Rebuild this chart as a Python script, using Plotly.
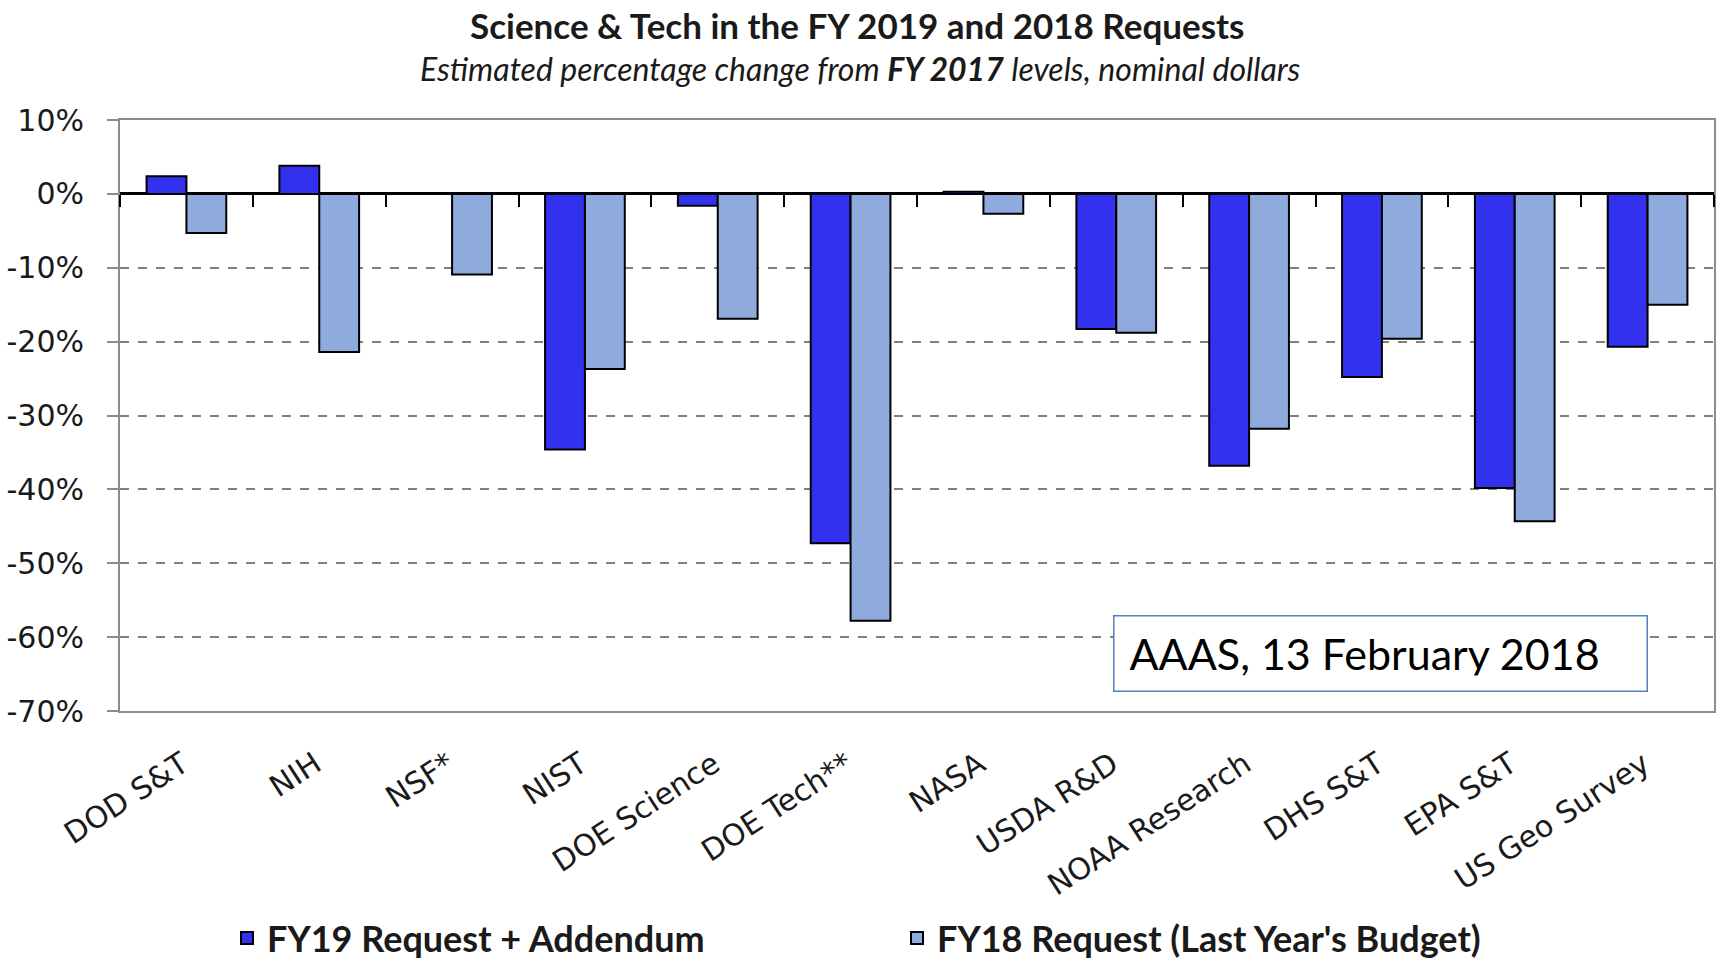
import plotly.graph_objects as go

categories = ["DOD S&T", "NIH", "NSF*", "NIST", "DOE Science", "DOE Tech**",
              "NASA", "USDA R&D", "NOAA Research", "DHS S&T", "EPA S&T", "US Geo Survey"]
fy19 = [2.4, 3.8, 0.0, -34.6, -1.6, -47.3, 0.3, -18.3, -36.8, -24.8, -39.8, -20.7]
fy18 = [-5.3, -21.4, -10.9, -23.7, -16.9, -57.8, -2.7, -18.8, -31.8, -19.6, -44.3, -15.0]
series_names = ["FY19 Request + Addendum", "FY18 Request (Last Year's Budget)"]
y_tickvals = [10, 0, -10, -20, -30, -40, -50, -60, -70]
y_ticktext = ["10%", "0%", "-10%", "-20%", "-30%", "-40%", "-50%", "-60%", "-70%"]
title_text = "Science & Tech in the FY 2019 and 2018 Requests"
subtitle_text = "Estimated percentage change from <b>FY 2017</b> levels, nominal dollars"
note_text = "AAAS, 13 February 2018"

Y_MIN, Y_MAX = -70, 10
FIG_W, FIG_H = 1720, 963
PLOT_TOP, PLOT_BOTTOM, PLOT_LEFT, PLOT_RIGHT = 120, 711, 120, 1714


def py(px):
    return (PLOT_BOTTOM - px) / (PLOT_BOTTOM - PLOT_TOP)


def pxx(px):
    return (px - PLOT_LEFT) / (PLOT_RIGHT - PLOT_LEFT)


fig = go.Figure()
fig.add_trace(go.Bar(x=categories, y=fy19, name=series_names[0],
                     marker=dict(color="#3232EE", line=dict(color="#000000", width=2))))
fig.add_trace(go.Bar(x=categories, y=fy18, name=series_names[1],
                     marker=dict(color="#8FAADC", line=dict(color="#000000", width=2))))

boundaries = [i - 0.5 for i in range(len(categories) + 1)]
zero_pos = (0 - Y_MIN) / (Y_MAX - Y_MIN)

# invisible helper trace so the boundary-tick axis is drawn
fig.add_trace(go.Scatter(x=[boundaries[0], boundaries[-1]], y=[0, 0], xaxis="x2",
                         mode="none", showlegend=False, hoverinfo="skip"))

fig.update_layout(
    width=FIG_W, height=FIG_H,
    margin=dict(l=PLOT_LEFT, r=FIG_W - PLOT_RIGHT, t=PLOT_TOP, b=FIG_H - PLOT_BOTTOM,
                autoexpand=False),
    paper_bgcolor="white", plot_bgcolor="white",
    barmode="group", bargap=0.4, bargroupgap=0.0,
    font=dict(family="DejaVu Sans", color="#222222"),
    showlegend=True,
    legend=dict(orientation="h", x=pxx(227), xanchor="left", y=py(938), yanchor="middle",
                font=dict(family="Lato", size=36, color="#1a1a1a", weight="bold"),
                entrywidth=625, itemsizing="constant", traceorder="normal"),
    xaxis=dict(type="category", showgrid=False, zeroline=False, ticks="",
               tickangle=-33, tickfont=dict(family="DejaVu Sans", size=30, color="#1a1a1a"),
               showline=True, linecolor="#8C8C8C", linewidth=2, mirror=True,
               ticklabelstandoff=22, ticklabelshift=-4, automargin=False),
    xaxis2=dict(overlaying="x", anchor="free", position=zero_pos, side="bottom",
                range=[-0.5, len(categories) - 0.5], tickvals=boundaries,
                showticklabels=False, showgrid=False, zeroline=False, showline=False,
                ticks="outside", ticklen=12, tickwidth=2, tickcolor="#000000",
                automargin=False),
    yaxis=dict(range=[Y_MIN, Y_MAX], tickvals=y_tickvals, ticktext=y_ticktext,
               showgrid=True, gridcolor="#7F7F7F", griddash="dash", gridwidth=1.5,
               zeroline=True, zerolinecolor="#000000", zerolinewidth=2.5,
               showline=True, linecolor="#8C8C8C", linewidth=2, mirror=True,
               ticks="outside", ticklen=11, tickcolor="#8C8C8C", tickwidth=2,
               tickfont=dict(family="DejaVu Sans", size=30, color="#1a1a1a"),
               ticklabelstandoff=17, automargin=False),
)

fig.add_annotation(text=f"<b>{title_text}</b>", xref="paper", yref="paper",
                   x=pxx(857), y=py(25), xanchor="center", yanchor="middle",
                   showarrow=False, font=dict(family="Lato", size=35, color="#1a1a1a"))
fig.add_annotation(text=f"<i>{subtitle_text}</i>", xref="paper", yref="paper",
                   x=pxx(860), y=py(68), xanchor="center", yanchor="middle",
                   showarrow=False, font=dict(family="Lato", size=32, color="#1a1a1a"))
fig.add_annotation(text=note_text, xref="paper", yref="paper",
                   x=pxx(1113), y=py(653), xanchor="left", yanchor="middle",
                   showarrow=False, align="left", valign="middle", width=502, height=44,
                   bgcolor="white", bordercolor="#4F81BD", borderwidth=1.5, borderpad=15,
                   font=dict(family="Lato", size=43, color="#000000"))

fig.write_html("out.html", config={"displayModeBar": False},
               post_script="document.body.style.margin='0px';document.body.style.overflow='hidden';")
